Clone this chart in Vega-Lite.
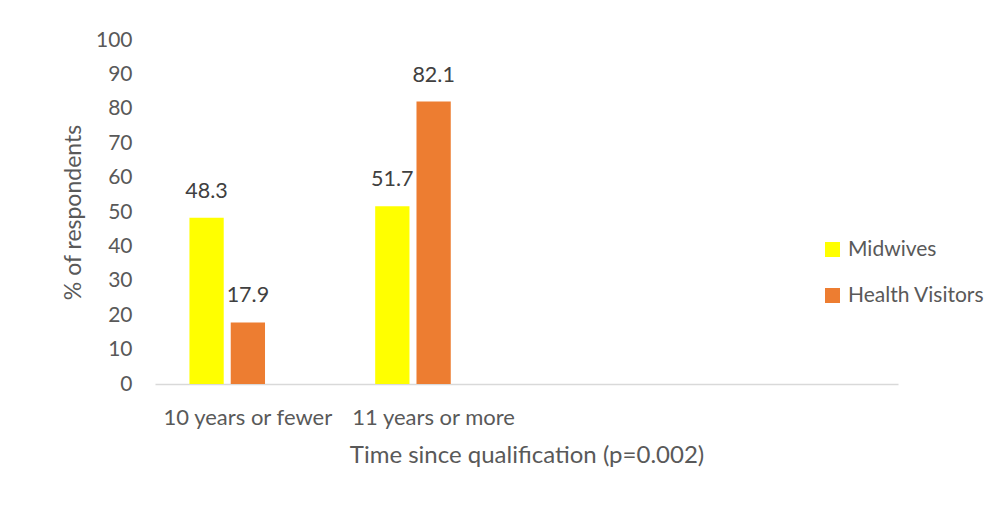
{
  "$schema": "https://vega.github.io/schema/vega-lite/v6.json",
  "autosize": {"type": "none"},
  "width": 743,
  "height": 344,
  "padding": {"left": 155, "top": 40, "right": 101, "bottom": 142},
  "background": "white",
  "config": {
    "view": {"stroke": null},
    "font": "Lato",
    "axis": {"labelFont": "Lato", "titleFont": "Lato", "labelColor": "#595959", "titleColor": "#595959", "titleFontWeight": "normal"},
    "legend": {"labelFont": "Lato", "labelColor": "#595959"}
  },
  "data": {
    "values": [
      {"period": "10 years or fewer", "group": "Midwives", "pct": 48.3},
      {"period": "10 years or fewer", "group": "Health Visitors", "pct": 17.9},
      {"period": "11 years or more", "group": "Midwives", "pct": 51.7},
      {"period": "11 years or more", "group": "Health Visitors", "pct": 82.1}
    ]
  },
  "encoding": {
    "x": {
      "field": "period",
      "type": "nominal",
      "sort": null,
      "scale": {"domain": ["10 years or fewer", "11 years or more", "slot3", "slot4"], "paddingInner": 0, "paddingOuter": 0},
      "axis": {
        "title": "Time since qualification (p=0.002)",
        "labelAngle": 0,
        "labelExpr": "indexof(['slot3','slot4'], datum.value) >= 0 ? '' : datum.value",
        "labelFontSize": 22,
        "labelPadding": 33,
        "labelBaseline": "middle",
        "ticks": false,
        "domainColor": "#d9d9d9",
        "domainWidth": 1.5,
        "grid": false,
        "titleFontSize": 24,
        "titleBaseline": "middle",
        "titleY": 71
      }
    },
    "xOffset": {
      "field": "group",
      "type": "nominal",
      "scale": {"domain": ["Midwives", "Health Visitors", "spare"], "paddingInner": 0.17, "paddingOuter": 0.834}
    },
    "y": {
      "field": "pct",
      "type": "quantitative",
      "scale": {"domain": [0, 100]},
      "axis": {
        "title": "% of respondents",
        "values": [0, 10, 20, 30, 40, 50, 60, 70, 80, 90, 100],
        "tickCount": 11,
        "labelOverlap": false,
        "labelFontSize": 21,
        "labelPadding": 23,
        "ticks": false,
        "domain": false,
        "grid": false,
        "titleFontSize": 23,
        "titleAngle": -90,
        "titleX": -82,
        "titleY": 172,
        "titleAlign": "center",
        "titleBaseline": "middle"
      }
    }
  },
  "layer": [
    {
      "mark": {"type": "bar"},
      "encoding": {
        "color": {
          "field": "group",
          "type": "nominal",
          "scale": {"domain": ["Midwives", "Health Visitors"], "range": ["#FFFF00", "#ED7D31"]},
          "legend": {
            "title": null,
            "orient": "none",
            "legendX": 667,
            "legendY": 199,
            "padding": 0,
            "symbolType": "square",
            "symbolSize": 225,
            "symbolStrokeWidth": 0,
            "labelFontSize": 21,
            "labelOffset": 5,
            "rowPadding": 24
          }
        }
      }
    },
    {
      "mark": {"type": "text", "baseline": "bottom", "dy": -15, "fontSize": 21.5, "color": "#404040", "font": "Lato"},
      "encoding": {
        "text": {"field": "pct", "type": "quantitative", "format": ".1f"}
      }
    }
  ]
}
